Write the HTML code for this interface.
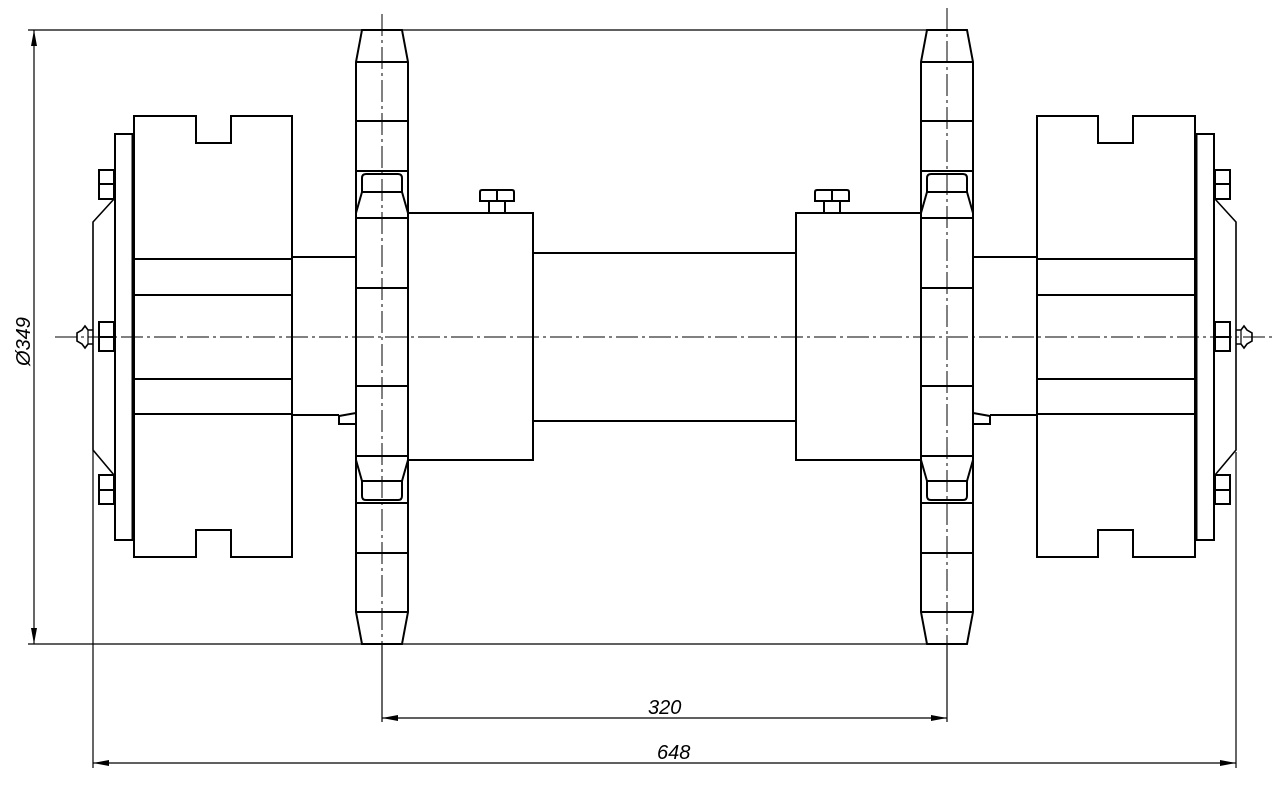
<!DOCTYPE html>
<html><head><meta charset="utf-8"><style>
html,body{margin:0;padding:0;background:#fff;}
svg{display:block;}
</style></head><body>
<svg width="1276" height="791" viewBox="0 0 1276 791" xmlns="http://www.w3.org/2000/svg">
<defs>
<g id="half" fill="none" stroke="#000" stroke-width="2">
  <!-- sprocket -->
  <path d="M362,30 L402,30 L408,62 L408,612 L402,644 L362,644 L356,612 L356,62 Z"/>
  <line x1="356" y1="62" x2="408" y2="62"/>
  <line x1="356" y1="121" x2="408" y2="121"/>
  <line x1="356" y1="171" x2="408" y2="171"/>
  <line x1="356" y1="218" x2="408" y2="218"/>
  <line x1="356" y1="288" x2="408" y2="288"/>
  <line x1="356" y1="386" x2="408" y2="386"/>
  <line x1="356" y1="456" x2="408" y2="456"/>
  <line x1="356" y1="503" x2="408" y2="503"/>
  <line x1="356" y1="553" x2="408" y2="553"/>
  <line x1="356" y1="612" x2="408" y2="612"/>
  <!-- rollers -->
  <path d="M356,213 L362,192 L362,178 Q362,174 366,174 L398,174 Q402,174 402,178 L402,192 L408,213"/>
  <line x1="362" y1="192" x2="402" y2="192"/>
  <path d="M356,460 L362,481 L362,496 Q362,500 366,500 L398,500 Q402,500 402,496 L402,481 L408,460"/>
  <line x1="362" y1="481" x2="402" y2="481"/>
  <!-- hub -->
  <rect x="408" y="213" width="125" height="247"/>
  <!-- bolt -->
  <path d="M489,213 L489,201 L505,201 L505,213"/>
  <path d="M480,201 L480,192 Q480,190 482,190 L512,190 Q514,190 514,192 L514,201 Z"/>
  <line x1="497" y1="190" x2="497" y2="201"/>
  <!-- shaft to drum -->
  <line x1="292" y1="257" x2="356" y2="257"/>
  <line x1="292" y1="415" x2="339" y2="415"/>
  <path d="M339,415 L339,424 L356,424 M339,416 L356,413"/>
  <!-- drum -->
  <path d="M134,116 L196,116 L196,143 L231,143 L231,116 L292,116 L292,557 L231,557 L231,530 L196,530 L196,557 L134,557 Z"/>
  <line x1="134" y1="259" x2="292" y2="259"/>
  <line x1="134" y1="295" x2="292" y2="295"/>
  <line x1="134" y1="379" x2="292" y2="379"/>
  <line x1="134" y1="414" x2="292" y2="414"/>
  <line x1="133" y1="134" x2="133" y2="540" stroke-width="3"/>
  <!-- plate -->
  <rect x="115" y="134" width="18" height="406"/>
  <!-- nuts -->
  <rect x="99" y="170" width="15" height="29"/><line x1="99" y1="184" x2="114" y2="184"/>
  <rect x="99" y="322" width="15" height="29"/><line x1="99" y1="337" x2="114" y2="337"/>
  <rect x="99" y="475" width="15" height="29"/><line x1="99" y1="490" x2="114" y2="490"/>
  <!-- cover -->
  <path d="M114,199 L93,222 L93,450 L114,475" stroke-width="1.6"/>
  <!-- grease fitting -->
  <path d="M93,330 L88,330 L85,326 L82,330 L77,333 L77,341 L82,344 L85,348 L88,344 L93,344" stroke-width="1.6"/>
  <line x1="88" y1="330" x2="88" y2="344" stroke-width="1.2"/>
</g>
</defs>
<use href="#half"/>
<use href="#half" transform="translate(1329,0) scale(-1,1)"/>
<!-- central shaft -->
<g fill="none" stroke="#000" stroke-width="2">
  <line x1="533" y1="253" x2="796" y2="253"/>
  <line x1="533" y1="421" x2="796" y2="421"/>
</g>
<!-- center lines -->
<g stroke="#000" stroke-width="1" fill="none" stroke-dasharray="22,4,3,4">
  <line x1="55" y1="337" x2="1272" y2="337"/>
  <line x1="382" y1="14" x2="382" y2="644"/>
  <line x1="947" y1="8" x2="947" y2="644"/>
</g>
<!-- dimensions -->
<g stroke="#000" stroke-width="1.2" fill="none">
  <line x1="28" y1="30" x2="362" y2="30"/>
  <line x1="402" y1="30" x2="927" y2="30"/>
  <line x1="28" y1="644" x2="362" y2="644"/>
  <line x1="402" y1="644" x2="927" y2="644"/>
  <line x1="34" y1="30" x2="34" y2="644"/>
  <line x1="382" y1="644" x2="382" y2="722"/>
  <line x1="947" y1="644" x2="947" y2="722"/>
  <line x1="382" y1="718" x2="947" y2="718"/>
  <line x1="93" y1="450" x2="93" y2="768"/>
  <line x1="1236" y1="452" x2="1236" y2="768"/>
  <line x1="93" y1="763" x2="1236" y2="763"/>
</g>
<g fill="#000">
  <path d="M34,30 L31,46 L37,46 Z"/>
  <path d="M34,644 L31,628 L37,628 Z"/>
  <path d="M382,718 L398,715 L398,721 Z"/>
  <path d="M947,718 L931,715 L931,721 Z"/>
  <path d="M93,763 L109,760 L109,766 Z"/>
  <path d="M1236,763 L1220,760 L1220,766 Z"/>
</g>
<g font-family="Liberation Sans, sans-serif" font-style="italic" font-size="20" fill="#000">
  <text x="648" y="714">320</text>
  <text x="657" y="759">648</text>
  <text transform="translate(30,366) rotate(-90)">Ø349</text>
</g>
</svg>
</body></html>
